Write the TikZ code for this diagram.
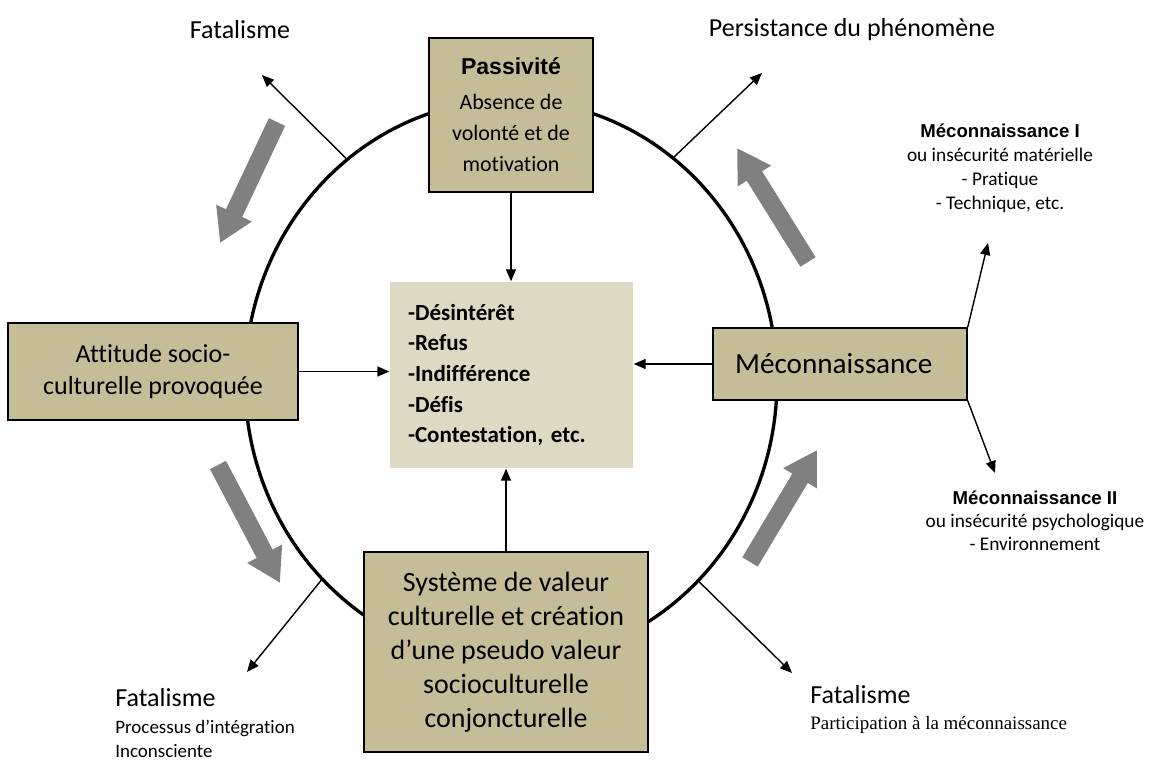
\documentclass[tikz,border=0pt]{standalone}
\usepackage{fontspec}
\setmainfont{Carlito}[Ligatures=CommonOff]
\newfontfamily\arialfont{Liberation Sans}
\newfontfamily\timesfont{Liberation Serif}
\usepackage{tikz}
\usetikzlibrary{arrows.meta}
\definecolor{kaki}{RGB}{196,189,151}
\definecolor{kakiclair}{RGB}{221,217,195}
\definecolor{fleche}{RGB}{128,128,128}
\tikzset{
  boite/.style={draw=black,line width=0.8pt,fill=kaki,align=center,inner sep=0pt},
  lien/.style={line width=0.8pt,-{Triangle[length=0.24cm,width=0.2cm]}},
  grosse/.style={fleche,line width=0.36cm,-{Triangle[length=0.66cm,width=0.74cm]}},
  etiq/.style={inner sep=0pt,font=\fontsize{14.8}{18}\selectfont}
}

\begin{document}
\begin{tikzpicture}
\useasboundingbox (0,0) rectangle (23.02,15.22);
\coordinate (c) at (10.22,7.60);
\draw[line width=1.9pt] (c) ellipse [x radius=5.32, y radius=5.62];
% les boites
\node[boite,minimum width=3.28cm,minimum height=3.08cm,font=\fontsize{12.5}{17.6}\selectfont] (pass) at (10.22,12.92)
  {{\arialfont\bfseries\fontsize{13.1}{17.6}\selectfont Passivité}\\[2.4pt] Absence de\\ volonté et de\\ motivation};
\node[boite,fill=kakiclair,draw=none,align=left,minimum height=3.72cm,text width=4.14cm,inner xsep=0.36cm,font=\bfseries\fontsize{13.1}{17.4}\selectfont] (liste) at (10.23,7.72)
  {-Désintérêt\\ -Refus\\ -Indifférence\\ -Défis\\ -Contestation, etc.\\[-6pt]};
\node[boite,minimum width=5.8cm,minimum height=1.94cm,font=\fontsize{14.8}{18.2}\selectfont] (att) at (3.06,7.79)
  {Attitude socio-\\ culturelle provoquée};
\node[boite,minimum width=5.08cm,minimum height=1.44cm,font=\fontsize{16.6}{19}\selectfont] (mec) at (16.80,7.94)
  {Méconnaissance\hspace{0.25cm}};
\node[boite,minimum width=5.68cm,minimum height=4.0cm,font=\fontsize{15.9}{19.3}\selectfont] (sys) at (10.12,2.18)
  {Système de valeur\\ culturelle et création\\ d’une pseudo valeur\\ socioculturelle\\ conjoncturelle};
% vers le centre
\draw[lien] (pass.south) -- (pass.south |- liste.north);
\draw[lien] (att.east) -- (att.east -| liste.west);
\draw[lien] (mec.west) -- (mec.west -| liste.east);
\draw[lien] (sys.north) -- (sys.north |- liste.south);
% les etiquettes
\node[etiq] (fat1) at (4.80,14.62) {Fatalisme};
\node[etiq] (pers) at (17.04,14.62) {Persistance du phénomène};
\node[inner sep=0pt,align=center,font=\fontsize{11}{13.7}\selectfont] (mec1) at (20.0,11.86)
  {{\arialfont\bfseries\fontsize{10.6}{13.7}\selectfont Méconnaissance I}\\ ou insécurité matérielle\\ - Pratique\\ - Technique, etc.};
\node[inner sep=0pt,align=center,font=\fontsize{11}{13.2}\selectfont] (mec2) at (20.70,4.80)
  {{\arialfont\bfseries\fontsize{10.6}{13.2}\selectfont Méconnaissance II}\\ ou insécurité psychologique\\ - Environnement};
\node[inner sep=0pt,anchor=north west,align=left,font=\fontsize{10.8}{13.6}\selectfont] (fat2) at (2.30,1.46)
  {{\fontsize{14.8}{13.6}\selectfont Fatalisme}\\[1.6pt] Processus d’intégration\\ Inconsciente};
\node[inner sep=0pt,anchor=north west,align=left,font=\fontsize{10.8}{13.6}\selectfont] (fat3) at (16.20,1.52)
  {{\fontsize{14.8}{13.6}\selectfont Fatalisme}\\[1.2pt] {\timesfont Participation à la méconnaissance}};
% fleches vers l'exterieur
\coordinate (b1) at (5.24,13.72);
\coordinate (b2) at (15.24,13.76);
\coordinate (b3) at (4.94,1.78);
\coordinate (b4) at (15.84,1.76);
\coordinate (b5) at (19.76,10.36);
\coordinate (b6) at (19.90,5.76);
\draw[lien] (c) ++(128:5.32 and 5.62) -- (b1);
\draw[lien] (c) ++(52.5:5.32 and 5.62) -- (b2);
\draw[lien] (c) ++(224.8:5.32 and 5.62) -- (b3);
\draw[lien] (c) ++(314.7:5.32 and 5.62) -- (b4);
\draw[lien] (mec.north east) -- (b5);
\draw[lien] (mec.south east) -- (b6);
% grosses fleches grises
\draw[grosse] (5.54,12.78) -- (4.40,10.36);
\draw[grosse] (16.16,9.98) -- (14.74,12.26);
\draw[grosse] (4.36,5.92) -- (5.60,3.56);
\draw[grosse] (15.0,3.98) -- (16.34,6.22);
\end{tikzpicture}
\end{document}
